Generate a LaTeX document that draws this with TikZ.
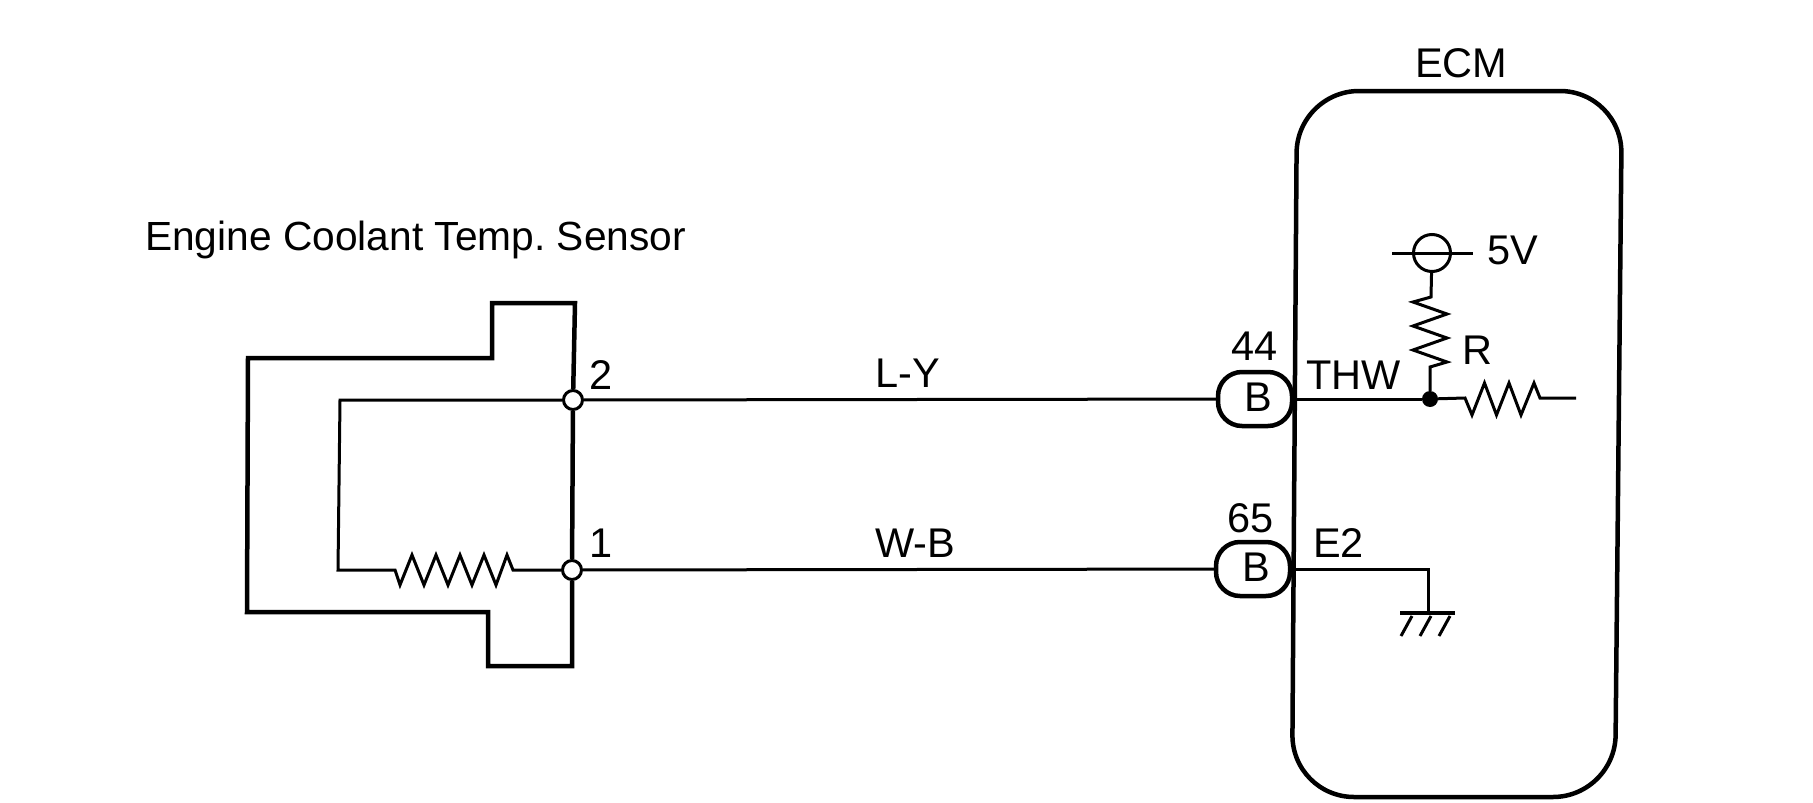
\documentclass[tikz,border=0pt]{standalone}
\usepackage{fontspec}
\setmainfont{Liberation Sans}
\frenchspacing
\newcommand{\plugtext}[1]{\hspace*{7pt}\raisebox{3pt}{#1}}

\begin{document}
\begin{tikzpicture}[
	x=1pt,y=-1pt,
	every node/.style={font=\fontsize{41.5}{41.5}\selectfont},
	outline/.style={line width=4.5pt,line join=miter,black},
	wire/.style={line width=3pt,line join=miter,black},
	caption/.style={inner sep=0pt,anchor=base west},
	pin/.style={circle,draw,line width=3pt,fill=white,minimum size=19pt,inner sep=0pt},
	plug/.style={rectangle,draw,line width=4.5pt,rounded corners=24pt,minimum width=74pt,minimum height=54pt,inner sep=0pt,fill=white},
	]
	\useasboundingbox (0,0) rectangle (1813,803);

	\node [caption,font=\fontsize{40.7}{40.7}\selectfont] (sensorname) at (145,250) {Engine Coolant Temp. Sensor};
	\node [caption] (ecmname) at (1415,77) {ECM};
	\node [pin] (pin2) at (573,400) {};
	\node [pin] (pin1) at (572,570) {};
	\node [plug] (plug44) at (1255,399) {\plugtext{B}};
	\node [plug] (plug65) at (1253,569) {\plugtext{B}};
	\node [circle,draw,line width=3pt,minimum size=37pt,inner sep=0pt] (vref) at (1432,253) {};
	\node [circle,fill=black,minimum size=16pt,inner sep=0pt] (thwdot) at (1430,399) {};
	\coordinate (vrefleft) at (1392,253);
	\coordinate (vrefright) at (1473,253);
	\coordinate (rend) at (1576,398);
	\coordinate (gnd) at (1428,613);

	\node [caption] at (589,389) (num2) {2};
	\node [caption] at (589,557) (num1) {1};
	\node [caption] at (875,387) (ly) {L-Y};
	\node [caption] at (875,557) (wb) {W-B};
	\node [caption] at (1231,360) (num44) {44};
	\node [caption] at (1227,532) (num65) {65};
	\node [caption] at (1306,389) (thw) {THW};
	\node [caption] at (1313,557) (e2) {E2};
	\node [caption] at (1462,364) (rname) {R};
	\node [caption] at (1487,264) (fivev) {5V};

	% sensor body
	\draw [outline] (pin2) -- (575,303) -- (492,303) -- (492,358) -- (248,358) -- (247,612)
		-- (488,612) -- (488,666) -- (572,666) -- (pin1);
	\draw [outline] (pin2) -- (pin1);

	% ECM box
	\draw [outline,rounded corners=62pt] (1297,91) -- (1622,91) -- (1615,797) -- (1292,797) -- cycle;

	% wires
	\draw [wire] (pin2) -- (340,400) -- (338,570) -- (395,570) -- ++(5,15)
		\foreach \i in {1,...,4} {-- ++(12,-30) -- ++(12,30)} -- ++(11,-30) -- ++(6,15) -- (pin1);
	\draw [wire] (pin2) -- (plug44);
	\draw [wire] (pin1) -- (plug65);
	\draw [wire] (plug44) -- (thwdot);
	\draw [wire] (thwdot) -- (1465,398) -- ++(7,17)
		\foreach \i in {1,2} {-- ++(12.5,-32) -- ++(12,32)} -- ++(13,-32) -- ++(6,15) -- (rend);
	\draw [wire] (thwdot) -- (1430,367) -- ++(17,-5)
		\foreach \i in {1,2} {-- ++(-34,-12) -- ++(34,-12)} -- ++(-34,-12) -- (1431,297) -- (vref);
	\draw [wire] (vrefleft) -- (vrefright);

	% ground
	\draw [wire] (plug65) -- (1428,569) -- (gnd);
	\draw [wire,line width=4pt] (1400,613) -- (1455,613);
	\foreach \i in {0,1,2}
		\draw [wire] (1412+\i*19,616) -- ++(-11,20);
\end{tikzpicture}
\end{document}
